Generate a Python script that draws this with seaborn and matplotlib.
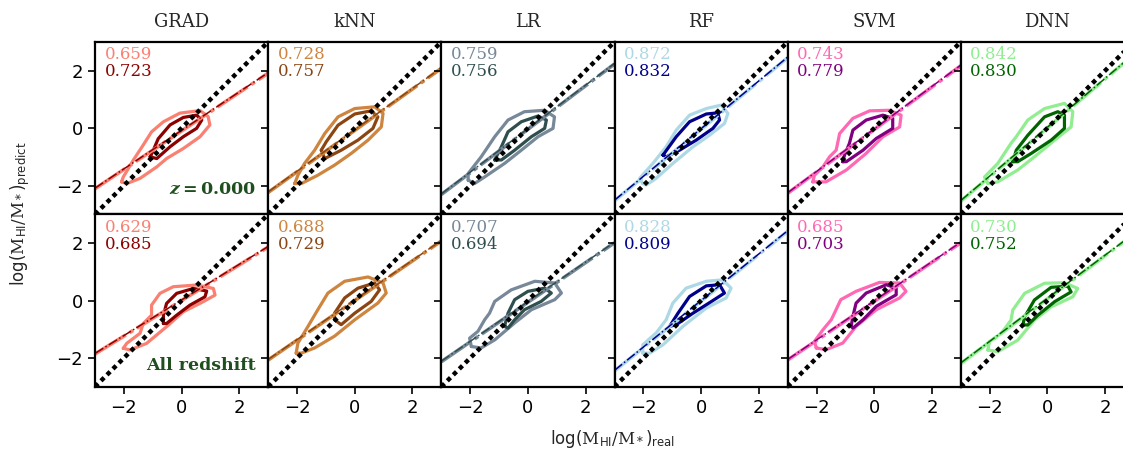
import numpy as np
import pandas as pd
import seaborn as sns
import matplotlib
matplotlib.use('Agg')
import matplotlib.pyplot as plt

# models, colours and scores for each panel
models = ['GRAD', 'kNN', 'LR', 'RF', 'SVM', 'DNN']
light_colors = ['salmon', 'peru', 'lightslategray', 'lightblue', 'hotpink', 'lightgreen']
dark_colors = ['darkred', 'saddlebrown', 'darkslategray', 'darkblue', 'purple', 'darkgreen']
row_labels = ['$\\boldsymbol{z = 0.000}$', 'All redshift']

score_light_z0 = [0.659, 0.728, 0.759, 0.872, 0.743, 0.842]
score_dark_z0 = [0.723, 0.757, 0.756, 0.832, 0.779, 0.830]
score_light_all = [0.629, 0.688, 0.707, 0.828, 0.685, 0.730]
score_dark_all = [0.685, 0.729, 0.694, 0.809, 0.703, 0.752]

# fitted lines (slope, intercept)
slope_z0 = [0.67, 0.72, 0.757, 0.83, 0.74, 0.85]
icpt_z0 = [-0.10, -0.08, -0.04, -0.04, -0.05, 0.01]
slope_all = [0.62, 0.69, 0.69, 0.81, 0.68, 0.75]
icpt_all = [0.0, 0.0, -0.06, -0.02, -0.03, 0.06]

# contour outlines (x, y)
grad_z0_outer = [(-2.08, -1.87), (-2.02, -1.70), (-1.67, -1.11), (-1.33, -0.59), (-1.04, -0.13), (-0.63, 0.22),
                 (-0.06, 0.52), (0.64, 0.61), (0.92, 0.40), (0.98, 0.11), (0.64, -0.30), (0.06, -0.71),
                 (-0.52, -1.06), (-0.86, -1.35), (-1.44, -1.75), (-1.90, -1.93)]
grad_z0_inner = [(-1.09, -1.00), (-0.98, -0.77), (-0.81, -0.37), (-0.40, 0.11), (0.06, 0.37), (0.52, 0.45),
                 (0.70, 0.28), (0.52, -0.01), (0.06, -0.30), (-0.40, -0.65), (-0.86, -1.06)]
knn_z0_outer = [(-2.08, -1.93), (-1.97, -1.64), (-1.74, -1.23), (-1.39, -0.77), (-1.04, -0.19), (-0.58, 0.39),
                (0.0, 0.68), (0.69, 0.74), (0.98, 0.51), (0.92, 0.04), (0.46, -0.42), (-0.12, -0.88),
                (-0.70, -1.29), (-1.28, -1.64), (-1.85, -1.93)]
knn_z0_inner = [(-1.16, -0.77), (-0.99, -0.48), (-0.58, 0.10), (0.0, 0.49), (0.57, 0.60), (0.80, 0.39),
                (0.63, -0.01), (0.11, -0.42), (-0.47, -0.77), (-1.04, -1.06)]
lr_z0_outer = [(-2.07, -1.81), (-2.07, -1.58), (-1.62, -1.00), (-1.15, -0.30), (-0.69, 0.28), (-0.12, 0.57),
               (0.58, 0.62), (0.92, 0.39), (0.87, -0.01), (0.35, -0.30), (-0.23, -0.77), (-0.81, -1.23),
               (-1.50, -1.70), (-1.85, -1.93)]
lr_z0_inner = [(-1.15, -1.11), (-0.92, -0.65), (-0.69, -0.13), (-0.23, 0.22), (0.35, 0.42), (0.64, 0.28),
               (0.58, -0.01), (0.12, -0.30), (-0.46, -0.77), (-0.92, -1.11)]
rf_z0_outer = [(-2.02, -1.93), (-2.13, -1.75), (-1.67, -1.23), (-1.21, -0.65), (-0.86, -0.07), (-0.40, 0.45),
               (0.18, 0.68), (0.70, 0.80), (0.93, 0.51), (0.81, 0.16), (0.29, -0.25), (-0.28, -0.65),
               (-0.98, -1.23), (-1.56, -1.75), (-1.90, -1.98)]
rf_z0_inner = [(-1.32, -0.94), (-0.86, -0.30), (-0.40, 0.22), (0.18, 0.49), (0.58, 0.53), (0.64, 0.28),
               (0.41, -0.01), (-0.17, -0.42), (-0.75, -0.77), (-1.21, -1.00)]
svm_z0_outer = [(-2.13, -1.87), (-2.07, -1.64), (-1.78, -1.35), (-1.55, -1.00), (-1.32, -0.77), (-1.20, -0.19),
                (-0.74, 0.34), (-0.16, 0.60), (0.53, 0.62), (0.93, 0.45), (0.88, 0.04), (0.30, -0.30),
                (-0.28, -0.88), (-0.97, -1.46), (-1.67, -1.87)]
svm_z0_inner = [(-1.09, -1.17), (-1.03, -0.94), (-0.86, -0.53), (-0.74, -0.07), (-0.28, 0.28), (0.30, 0.45),
                (0.64, 0.34), (0.64, -0.01), (0.07, -0.36), (-0.39, -0.77), (-0.97, -1.17)]
dnn_z0_outer = [(-2.06, -1.93), (-2.18, -1.70), (-1.72, -1.23), (-1.26, -0.53), (-1.08, -0.30), (-0.68, 0.28),
                (-0.10, 0.68), (0.59, 0.86), (0.88, 0.57), (0.82, 0.04), (0.25, -0.42), (-0.45, -1.00),
                (-1.03, -1.46), (-1.72, -1.87)]
dnn_z0_inner = [(-1.20, -1.17), (-1.08, -0.77), (-0.68, -0.25), (-0.10, 0.39), (0.36, 0.57), (0.59, 0.45),
                (0.59, -0.01), (0.13, -0.42), (-0.56, -0.88), (-1.03, -1.17)]

grad_all_outer = [(-2.02, -1.66), (-1.90, -1.49), (-1.44, -1.14), (-1.33, -0.80), (-1.04, -0.51), (-1.04, -0.16),
                  (-0.75, 0.25), (-0.29, 0.48), (0.52, 0.54), (1.10, 0.42), (1.16, 0.19), (0.75, -0.04),
                  (0.06, -0.39), (-0.52, -0.91), (-1.21, -1.49), (-1.79, -1.72)]
grad_all_inner = [(-0.63, -0.80), (-0.63, -0.51), (-0.52, -0.10), (-0.17, 0.25), (0.41, 0.42), (0.87, 0.33),
                  (0.81, 0.13), (0.29, -0.16), (-0.17, -0.51), (-0.52, -0.80)]
knn_all_outer = [(-2.03, -1.83), (-1.97, -1.48), (-1.62, -0.90), (-1.28, -0.32), (-0.93, 0.26), (-0.35, 0.67),
                 (0.46, 0.82), (0.98, 0.61), (1.09, 0.26), (0.80, -0.09), (0.0, -0.67), (-0.70, -1.24),
                 (-1.39, -1.65), (-1.85, -1.83)]
knn_all_inner = [(-0.70, -0.67), (-0.70, -0.44), (-0.35, 0.09), (0.11, 0.43), (0.69, 0.61), (0.86, 0.37),
                 (0.57, -0.03), (0.0, -0.44), (-0.47, -0.84)]
lr_all_outer = [(-1.96, -1.60), (-2.02, -1.31), (-1.73, -1.07), (-1.50, -0.67), (-1.33, -0.44), (-1.15, -0.03),
                (-0.58, 0.37), (0.24, 0.67), (0.93, 0.61), (1.16, 0.26), (0.93, 0.03), (0.12, -0.32),
                (-0.46, -0.78), (-1.15, -1.37), (-1.62, -1.65)]
lr_all_inner = [(-0.81, -0.90), (-0.69, -0.44), (-0.46, 0.03), (0.0, 0.32), (0.58, 0.43), (0.81, 0.26),
                (0.46, -0.03), (-0.12, -0.32), (-0.46, -0.67), (-0.69, -0.96)]
rf_all_outer = [(-2.02, -1.83), (-2.02, -1.54), (-1.56, -1.13), (-1.21, -0.67), (-0.98, -0.09), (-0.52, 0.43),
                (0.18, 0.67), (0.75, 0.72), (1.04, 0.43), (0.87, 0.09), (0.18, -0.26), (-0.63, -0.90),
                (-1.32, -1.54), (-1.78, -1.83)]
rf_all_inner = [(-1.09, -0.90), (-0.80, -0.44), (-0.40, 0.14), (0.18, 0.51), (0.64, 0.55), (0.81, 0.26),
                (0.41, 0.0), (-0.28, -0.44), (-0.86, -0.84)]
svm_all_outer = [(-2.01, -1.65), (-2.07, -1.42), (-1.78, -1.02), (-1.49, -0.67), (-1.38, -0.44), (-1.16, 0.03),
                 (-0.63, 0.32), (0.18, 0.63), (0.88, 0.61), (1.10, 0.32), (0.88, 0.09), (0.07, -0.32),
                 (-0.63, -0.90), (-1.09, -1.48), (-1.67, -1.71)]
svm_all_inner = [(-0.80, -0.90), (-0.74, -0.55), (-0.63, -0.09), (-0.28, 0.26), (0.42, 0.55), (0.76, 0.43),
                 (0.76, 0.20), (0.07, -0.20), (-0.39, -0.67), (-0.74, -0.96)]
dnn_all_outer = [(-2.06, -1.72), (-2.01, -1.43), (-1.60, -1.14), (-1.26, -0.68), (-1.20, -0.33), (-0.79, 0.25),
                 (-0.10, 0.60), (0.59, 0.62), (1.05, 0.42), (0.88, 0.13), (0.13, -0.22), (-0.45, -0.68),
                 (-1.03, -1.38), (-1.72, -1.78)]
dnn_all_inner = [(-0.85, -0.85), (-0.79, -0.57), (-0.45, 0.02), (0.13, 0.46), (0.71, 0.50), (0.82, 0.30),
                 (0.25, -0.04), (-0.33, -0.51), (-0.68, -0.85)]

outer_rows = [[grad_z0_outer, knn_z0_outer, lr_z0_outer, rf_z0_outer, svm_z0_outer, dnn_z0_outer],
              [grad_all_outer, knn_all_outer, lr_all_outer, rf_all_outer, svm_all_outer, dnn_all_outer]]
inner_rows = [[grad_z0_inner, knn_z0_inner, lr_z0_inner, rf_z0_inner, svm_z0_inner, dnn_z0_inner],
              [grad_all_inner, knn_all_inner, lr_all_inner, rf_all_inner, svm_all_inner, dnn_all_inner]]
slope_rows = [slope_z0, slope_all]
icpt_rows = [icpt_z0, icpt_all]
light_scores = [score_light_z0, score_light_all]
dark_scores = [score_dark_z0, score_dark_all]

sns.set_style('ticks')
plt.rcParams['font.family'] = ['DejaVu Sans']
plt.rcParams['mathtext.fontset'] = 'dejavuserif'
plt.rcParams['axes.linewidth'] = 1.6
plt.rcParams['axes.edgecolor'] = 'black'
plt.rcParams['xtick.color'] = 'black'
plt.rcParams['ytick.color'] = 'black'

fig, axes = plt.subplots(2, 6, figsize=(11.23, 4.55), dpi=100, sharex=True, sharey=True)
fig.subplots_adjust(left=0.0846, right=0.0846 + 6 * 0.1542, bottom=0.150, top=0.908,
                    wspace=0, hspace=0)

xs = np.array([-3.0, 3.0])


def closed(pts):
    df = pd.DataFrame(pts + [pts[0]], columns=['x', 'y'])
    return df


for r in range(2):
    for c in range(6):
        ax = axes[r, c]
        out_df = closed(outer_rows[r][c])
        in_df = closed(inner_rows[r][c])
        sns.lineplot(data=out_df, x='x', y='y', sort=False, estimator=None, ax=ax,
                     color=light_colors[c], lw=2.3, solid_joinstyle='round')
        sns.lineplot(data=in_df, x='x', y='y', sort=False, estimator=None, ax=ax,
                     color=dark_colors[c], lw=2.3, solid_joinstyle='round')
        fit = slope_rows[r][c] * xs + icpt_rows[r][c]
        sns.lineplot(x=xs, y=fit, ax=ax, color=light_colors[c], lw=2.6,
                     linestyle=(0, (10, 1.2, 1.2, 1.2)))
        sns.lineplot(x=xs, y=fit + 0.02, ax=ax, color=dark_colors[c], lw=1.1, linestyle='-.')
        sns.lineplot(x=xs, y=xs, ax=ax, color='black', lw=3.2, linestyle=(0, (1, 0.9)))

        ax.text(0.055, 0.975, '%.3f' % light_scores[r][c], transform=ax.transAxes,
                ha='left', va='top', color=light_colors[c], fontsize=12, family='DejaVu Serif')
        ax.text(0.055, 0.875, '%.3f' % dark_scores[r][c], transform=ax.transAxes,
                ha='left', va='top', color=dark_colors[c], fontsize=12, family='DejaVu Serif')

        ax.set_xlim(-3, 3)
        ax.set_ylim(-3, 3)
        ax.set_xticks([-2, 0, 2])
        ax.set_yticks([-2, 0, 2])
        ax.set_xlabel('')
        ax.set_ylabel('')
        ax.tick_params(labelsize=13, length=5, width=1.2)
        if r == 0:
            ax.set_title(models[c], fontsize=13, family='DejaVu Serif', pad=11)

axes[0, 0].text(0.93, 0.12, row_labels[0], transform=axes[0, 0].transAxes, ha='right',
                va='baseline', color='#1f4f1f', fontsize=12.5)
axes[1, 0].text(0.93, 0.10, row_labels[1], transform=axes[1, 0].transAxes, ha='right',
                va='baseline', color='#1f4f1f', fontsize=12.5, family='DejaVu Serif',
                fontweight='bold')

fig.text(0.545, 0.035, 'log($\\mathrm{M}_{\\mathsf{HI}}/\\mathrm{M}_*$)$_{\\mathsf{real}}$',
         ha='center', va='center', fontsize=12)
fig.text(0.018, 0.53, 'log($\\mathrm{M}_{\\mathsf{HI}}/\\mathrm{M}_*$)$_{\\mathsf{predict}}$',
         ha='center', va='center', rotation=90, fontsize=12)

plt.savefig('out.png', dpi=100)
